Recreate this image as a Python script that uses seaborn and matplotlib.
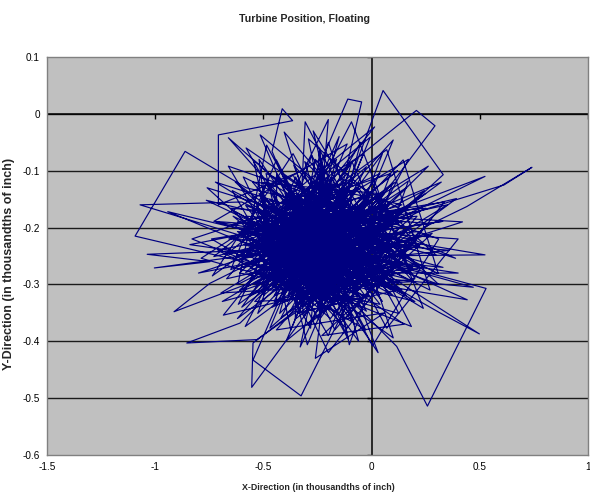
import matplotlib
matplotlib.use("Agg")
import matplotlib.pyplot as plt
import seaborn as sns
import pandas as pd

# Turbine hub position samples (thousandths of an inch), in recorded order
x_pos = [
    -0.21, -0.35, -0.05, -0.42, 0.08, -0.28, -0.61, -0.12, -0.33, 0.15,
    -0.47, -0.18, -0.55, 0.02, -0.26, -0.39, -0.08, -0.71, -0.15, 0.21,
    -0.30, -0.44, -0.02, -0.64, -0.20, 0.11, -0.37, -0.10, -0.52, -0.24,
    -0.58, -0.862, -1.093, -0.48, -0.16, 0.05, -0.34, -0.67, -0.09, -0.29,
    0.18, -0.41, -0.22, -0.56, -0.01, -0.31, -0.13, -0.46, 0.09, -0.26,
    -0.38, -1.07, -0.60, -0.19, -0.50, 0.13, -0.27, -0.07, -0.43, -0.17,
    0.24, 0.44, 0.741, 0.612, 0.06, -0.35, -0.21, -0.62, -0.04, -0.32,
    -0.708, -0.708, -0.365, -0.413, -0.46, -0.23, -0.11, -0.40, 0.00, -0.54,
    -0.20, -0.36, 0.16, -0.29, -0.63, -0.14, -0.45, 0.03, -0.25, -0.09,
    -0.33, -0.11, -0.046, -0.18, 0.053, 0.331, -0.08, -0.49, -0.27, 0.207,
    0.293, -0.02, -0.39, -0.16, -0.57, -0.06, -0.30, -0.12, -0.42, 0.10,
    -0.22, 0.116, 0.258, 0.529, 0.07, -0.34, -0.19, -0.51, -0.03, -0.28,
    -0.44, -0.747, -0.913, -0.58, -0.15, -0.37, 0.04, -0.24, -0.66, -0.10,
    -0.31, -0.48, -0.17, 0.12, -0.40, -0.26, -0.06, -0.53, -0.20, -0.35,
    -0.13, -0.53, -0.854, -0.608, -0.29, -0.04, -0.45, -0.21, 0.14, -0.32,
    -0.09, -0.548, -0.554, -0.30, -0.18, -0.60, -0.01, -0.38, -0.23, 0.19,
    -0.27, -0.548, -0.326, -0.12, -0.43, -0.16, -0.35, 0.01, -0.50, -0.22,
    -0.07, 0.524, -0.05, 0.47, -0.20, -0.41, -0.14, -0.62, -0.28, 0.06,
    -0.33, 0.316, 0.498, -0.02, -0.46, -0.25, -0.11, -0.38, 0.09, -0.19,
    -0.55, -1.037, -0.747, -1.004, -0.60, -0.24, -0.08, -0.36, -0.17, 0.03,
    -0.30, 0.442, -0.12, 0.524, -0.03, -0.42, -0.21, -0.56, -0.06, -0.27,
    -0.47, -0.15, 0.17, -0.34, -0.10, -0.52, -0.23, 0.00, -0.39, -0.18,
    -0.31, -0.662, -0.20, -0.942, -0.44, -0.07, -0.28, -0.59, 0.07, -0.16,
    -0.37, -0.12, -0.49, -0.26, 0.05, -0.33, -0.04, -0.22, -0.45, -0.14,
    0.11, -0.29, -0.53, -0.09, -0.36, -0.19, 0.02, -0.41, -0.24, -0.61,
    -0.05, -0.32, -0.15, 0.22, -0.43, -0.21, -0.02, -0.38, -0.11, -0.50,
    -0.26, 0.35, -0.17, 0.40, -0.30, -0.08, -0.47, -0.23, 0.04, -0.35,
    -0.13, -0.55, -0.28, -0.01, -0.40, -0.19, 0.13, -0.33, -0.10, -0.45,
    -0.22, -0.06, -0.37, -0.16, -0.58, 0.08, -0.27, -0.44, -0.03, -0.31,
    -0.20, -0.49, 0.10, -0.12, -0.35, -0.25, -0.04, -0.42, -0.15, -0.29,
    -0.24, -0.18, -0.36, -0.09, 0.05, -0.30, -0.15, -0.41, 0.12, -0.21,
    -0.33, -0.12, -0.44, 0.06, -0.26, -0.19, -0.06, -0.38, 0.15, -0.23,
    0.28, -0.14, 0.36, -0.27, 0.31, -0.03, 0.42, -0.32, 0.25, -0.08,
    -0.72, -0.26, -0.80, -0.17, -0.76, -0.38, -0.69, -0.10, -0.84, -0.30,
    -0.19, -0.43, 0.02, -0.28, -0.51, -0.07, -0.36, 0.16, -0.23, -0.46,
    -0.12, -0.34, -0.01, -0.57, -0.20, -0.40, 0.09, -0.25, -0.14, -0.48,
    -0.52, -0.20, -0.05, -0.33, -0.58, 0.03, -0.27, -0.11, 0.17, -0.40,
    -0.08, -0.29, 0.20, -0.42, -0.62, -0.16, 0.03, -0.36, 0.33, -0.21,
    -0.31, -0.09, -0.45, -0.24, 0.04, -0.37, -0.17, -0.54, -0.03, -0.28,
    -0.13, -0.41, -0.21, 0.07, -0.35, -0.06, -0.49, -0.18, -0.32, -0.22,
    0.329, -0.670, -0.006, -0.373, -0.546, 0.147, -0.764, 0.300, -0.292, -0.103,
    0.170, -0.616, -0.200, -0.282, -0.644, 0.270, 0.070, -0.736, -0.363, 0.070,
    0.400, -0.729, -0.113, -0.470, 0.244, -0.618, -0.485, -0.027, -0.740, 0.336,
    -0.200, -0.593, 0.308, 0.146, -0.526, -0.277, 0.126, -0.788, -0.037, -0.394,
    0.270, -0.651, -0.118, -0.404, 0.192, -0.696, 0.262, -0.425, -0.200, 0.100,
    -0.641, 0.251, -0.570, 0.100, -0.297, -0.488, 0.388, -0.722, 0.239, -0.093,
    -0.584, 0.322, -0.651, -0.440, 0.004, 0.310, -0.662, -0.200, 0.088, -0.830,
    0.184, -0.307, -0.353, 0.392, -0.729, 0.014, -0.685, 0.223, -0.515, -0.108,
    -0.42, 0.09, -0.27, -0.58, 0.17, -0.12, -0.49, -0.31, 0.04, -0.20,
    -0.55, -0.06, 0.20, -0.35, -0.16, -0.62, 0.10, -0.40, -0.24, -0.02,
    -0.29, -0.51, 0.13, -0.09, -0.44, -0.19, -0.60, 0.07, -0.33, -0.14,
    0.22, -0.38, -0.03, -0.54, -0.25, 0.11, -0.46, -0.17, -0.64, 0.00,
    -0.36, -0.11, -0.57, 0.14, -0.21, -0.45, 0.06, -0.30, -0.08, -0.52,
    -0.18, 0.18, -0.42, -0.26, -0.61, -0.01, -0.34, 0.12, -0.48, -0.14,
    -0.27, -0.55, 0.03, -0.39, -0.12, 0.21, -0.50, -0.22, -0.05, -0.63,
    0.08, -0.32, -0.17, -0.47, 0.16, -0.29, -0.59, -0.07, -0.38, 0.02,
    -0.23, -0.44, 0.11, -0.13, -0.53, -0.33, 0.19, -0.09, -0.41, -0.20,
    -0.57, -0.04, -0.36, 0.14, -0.26, -0.48, -0.15, 0.05, -0.31, -0.21,
    0.149, -0.607, -0.106, -0.309, -0.456, 0.098, -0.491, 0.149, -0.309, -0.106,
    0.098, -0.456, -0.232, -0.232, -0.582, 0.182, 0.005, -0.439, -0.439, 0.005,
    0.220, -0.560, -0.162, -0.351, 0.182, -0.528, -0.351, -0.024, -0.620, 0.100,
    -0.074, -0.326, -0.495, 0.095, 0.046, -0.446, -0.278, -0.091, -0.528, 0.128,
    -0.091, -0.294, -0.491, 0.091, -0.371, 0.039, -0.371, 0.039, -0.560, 0.220,
    0.013, -0.498, -0.498, 0.013, -0.238, -0.238, 0.128, -0.582, -0.024, -0.376,
]
y_pos = [
    -0.22, -0.18, -0.27, -0.25, -0.16, -0.31, -0.21, -0.12, -0.26, -0.24,
    -0.15, -0.29, -0.28, -0.21, -0.08, -0.33, -0.19, -0.24, -0.35, -0.18,
    -0.20, -0.11, -0.30, -0.17, -0.26, -0.28, -0.23, -0.09, -0.31, -0.16,
    -0.13, -0.066, -0.215, -0.27, -0.21, -0.33, -0.14, -0.29, -0.24, -0.37,
    -0.22, -0.19, -0.32, -0.22, -0.14, -0.27, -0.18, -0.34, -0.25, -0.12,
    -0.24, -0.16, -0.155, -0.23, -0.20, -0.30, -0.21, -0.28, -0.17, -0.38,
    -0.20, -0.163, -0.094, -0.125, -0.19, -0.29, -0.15, -0.25, -0.22, -0.10,
    -0.16, -0.037, -0.012, 0.009, -0.066, -0.27, -0.31, -0.22, -0.17, -0.26,
    -0.19, -0.30, -0.13, -0.24, -0.12, -0.26, -0.21, -0.29, -0.34, -0.15,
    -0.17, 0.026, 0.021, -0.20, 0.041, -0.107, -0.25, -0.29, -0.14, 0.006,
    -0.021, -0.18, -0.27, -0.24, -0.19, -0.32, -0.22, -0.13, -0.36, -0.21,
    -0.28, -0.409, -0.514, -0.307, -0.26, -0.20, -0.33, -0.16, -0.23, -0.29,
    -0.24, -0.298, -0.348, -0.30, -0.20, -0.16, -0.27, -0.23, -0.22, -0.17,
    -0.32, -0.19, -0.26, -0.23, -0.14, -0.30, -0.20, -0.24, -0.11, -0.27,
    -0.29, -0.397, -0.403, -0.368, -0.25, -0.16, -0.28, -0.21, -0.19, -0.23,
    -0.27, -0.403, -0.481, -0.35, -0.22, -0.27, -0.24, -0.18, -0.30, -0.27,
    -0.19, -0.433, -0.496, -0.34, -0.26, -0.15, -0.22, -0.31, -0.23, -0.17,
    -0.21, -0.248, -0.25, -0.305, -0.28, -0.31, -0.22, -0.20, -0.26, -0.14,
    -0.21, -0.35, -0.387, -0.26, -0.18, -0.31, -0.19, -0.25, -0.22, -0.36,
    -0.24, -0.247, -0.26, -0.271, -0.25, -0.20, -0.30, -0.13, -0.25, -0.20,
    -0.28, -0.327, -0.23, -0.110, -0.19, -0.22, -0.33, -0.27, -0.13, -0.24,
    -0.30, -0.18, -0.25, -0.26, -0.28, -0.14, -0.25, -0.23, -0.20, -0.31,
    -0.16, -0.042, -0.24, -0.172, -0.25, -0.29, -0.20, -0.23, -0.30, -0.21,
    -0.29, -0.16, -0.22, -0.35, -0.22, -0.24, -0.26, -0.14, -0.32, -0.27,
    -0.17, -0.22, -0.20, -0.33, -0.19, -0.27, -0.25, -0.28, -0.18, -0.31,
    -0.21, -0.26, -0.30, -0.23, -0.17, -0.25, -0.15, -0.32, -0.22, -0.26,
    -0.21, -0.16, -0.28, -0.28, -0.24, -0.18, -0.23, -0.33, -0.24, -0.15,
    -0.25, -0.29, -0.19, -0.28, -0.24, -0.17, -0.26, -0.30, -0.20, -0.19,
    -0.26, -0.23, -0.21, -0.32, -0.18, -0.20, -0.27, -0.23, -0.29, -0.18,
    -0.24, -0.27, -0.24, -0.19, -0.34, -0.16, -0.27, -0.20, -0.23, -0.30,
    -0.06, -0.27, -0.09, -0.21, -0.07, -0.25, -0.04, -0.26, -0.10, -0.20,
    -0.41, -0.24, -0.38, -0.35, -0.43, -0.22, -0.40, -0.23, -0.37, -0.39,
    -0.21, -0.26, -0.24, -0.22, -0.30, -0.18, -0.19, -0.28, -0.14, -0.23,
    -0.19, -0.24, -0.28, -0.20, -0.13, -0.26, -0.33, -0.27, -0.23, -0.19,
    -0.29, -0.14, -0.26, -0.33, -0.25, -0.16, -0.24, -0.29, -0.21, -0.27,
    -0.31, -0.18, -0.22, -0.23, -0.16, -0.30, -0.27, -0.26, -0.14, -0.21,
    -0.08, -0.26, -0.05, -0.23, -0.06, -0.22, -0.03, -0.28, -0.08, -0.21,
    -0.37, -0.21, -0.33, -0.27, -0.36, -0.23, -0.42, -0.20, -0.27, -0.25,
    -0.27, -0.17, -0.24, -0.32, -0.19, -0.25, -0.20, -0.30, -0.25, -0.23,
    -0.21, -0.17, -0.29, -0.23, -0.22, -0.31, -0.25, -0.18, -0.24, -0.22,
    -0.189, -0.247, -0.041, -0.380, -0.081, -0.316, -0.152, -0.249, -0.044, -0.406,
    -0.118, -0.335, -0.010, -0.377, -0.135, -0.310, -0.063, -0.285, -0.070, -0.377,
    -0.220, -0.189, -0.053, -0.377, -0.135, -0.300, -0.055, -0.380, -0.220, -0.155,
    -0.420, -0.111, -0.281, -0.081, -0.351, -0.073, -0.351, -0.254, -0.070, -0.399,
    -0.193, -0.166, -0.377, -0.032, -0.295, -0.315, -0.092, -0.351, -0.050, -0.394,
    -0.194, -0.166, -0.322, -0.046, -0.406, -0.105, -0.254, -0.120, -0.342, -0.014,
    -0.374, -0.120, -0.274, -0.081, -0.408, -0.220, -0.092, -0.390, -0.105, -0.220,
    -0.374, -0.014, -0.361, -0.149, -0.251, -0.023, -0.354, -0.271, -0.037, -0.396,
    -0.18, -0.31, -0.12, -0.25, -0.23, -0.33, -0.30, -0.17, -0.14, -0.28,
    -0.21, -0.13, -0.29, -0.32, -0.16, -0.19, -0.24, -0.11, -0.35, -0.26,
    -0.31, -0.15, -0.20, -0.30, -0.28, -0.12, -0.34, -0.15, -0.19, -0.24,
    -0.27, -0.14, -0.32, -0.33, -0.22, -0.12, -0.29, -0.33, -0.18, -0.30,
    -0.11, -0.26, -0.24, -0.16, -0.13, -0.33, -0.27, -0.19, -0.11, -0.22,
    -0.32, -0.20, -0.29, -0.15, -0.28, -0.32, -0.35, -0.31, -0.16, -0.14,
    -0.25, -0.12, -0.14, -0.30, -0.36, -0.22, -0.27, -0.13, -0.30, -0.22,
    -0.16, -0.34, -0.11, -0.18, -0.32, -0.16, -0.31, -0.24, -0.27, -0.28,
    -0.13, -0.23, -0.26, -0.29, -0.17, -0.35, -0.18, -0.12, -0.31, -0.20,
    -0.25, -0.33, -0.15, -0.31, -0.28, -0.12, -0.19, -0.16, -0.21, -0.23,
    -0.189, -0.256, -0.104, -0.356, -0.135, -0.319, -0.194, -0.251, -0.084, -0.336,
    -0.121, -0.305, -0.100, -0.340, -0.161, -0.279, -0.122, -0.335, -0.105, -0.318,
    -0.207, -0.231, -0.080, -0.329, -0.161, -0.270, -0.111, -0.347, -0.207, -0.229,
    -0.129, -0.311, -0.152, -0.288, -0.163, -0.277, -0.123, -0.356, -0.170, -0.270,
    -0.084, -0.336, -0.246, -0.194, -0.138, -0.335, -0.302, -0.105, -0.209, -0.233,
    -0.149, -0.319, -0.121, -0.291, -0.080, -0.360, -0.170, -0.279, -0.093, -0.347,
]

x_ticks = [-1.5, -1, -0.5, 0, 0.5, 1]
x_tick_labels = ["-1.5", "-1", "-0.5", "0", "0.5", "1"]
y_ticks = [0.1, 0, -0.1, -0.2, -0.3, -0.4, -0.5, -0.6]
y_tick_labels = ["0.1", "0", "-0.1", "-0.2", "-0.3", "-0.4", "-0.5", "-0.6"]

title = "Turbine Position, Floating"
x_label = "X-Direction (in thousandths of inch)"
y_label = "Y-Direction (in thousandths of inch)"

df = pd.DataFrame({"x": x_pos, "y": y_pos})

sns.set_style("white")
plt.rcParams["font.family"] = ["Liberation Sans", "DejaVu Sans"]
narrow = ["Liberation Sans Narrow", "Liberation Sans", "DejaVu Sans"]

fig = plt.figure(figsize=(5.9, 4.97), dpi=100)
fig.patch.set_facecolor("white")
ax = fig.add_axes([47 / 590, 1 - 455 / 497, 541 / 590, 398 / 497])
ax.set_facecolor("#C0C0C0")

# horizontal gridlines
for yv in y_ticks[1:-1]:
    ax.axhline(yv, color="#1a1a1a", lw=1.0, zorder=1)

# axes crossing at the origin
ax.axhline(0, color="black", lw=1.1, zorder=1.5)
ax.axvline(0, color="black", lw=1.1, zorder=1.5)
ax.plot([-1, -0.5, 0.5, 1], [0, 0, 0, 0], ls="none", marker=3,
        ms=3.5, mew=1.0, color="black", zorder=1.5)
ax.plot([0] * 8, y_ticks, ls="none", marker=0,
        ms=3.5, mew=1.0, color="black", zorder=1.5)

sns.lineplot(data=df, x="x", y="y", sort=False, estimator=None,
             color="#000080", lw=0.85, ax=ax, zorder=3)

ax.set_xlim(-1.5, 1)
ax.set_ylim(-0.6, 0.1)
ax.set_xticks(x_ticks)
ax.set_xticklabels(x_tick_labels)
ax.set_yticks(y_ticks)
ax.set_yticklabels(y_tick_labels)
ax.tick_params(axis="both", length=0, labelsize=7.2, colors="black", pad=5)
for s in ax.spines.values():
    s.set_color("#808080")
    s.set_linewidth(1.0)

ax.set_xlabel(x_label, fontsize=6.4, fontweight="bold", family=narrow)
ax.xaxis.set_label_coords(0.502, -0.071)
ax.set_ylabel(y_label, fontsize=9.0, fontweight="bold", family=narrow)
ax.yaxis.set_label_coords(-0.060, 0.48)
fig.text(0.516, 1 - 19 / 497, title, ha="center", va="center",
         fontsize=7.7, fontweight="bold", family=narrow)

fig.savefig("out.png", dpi=100)
